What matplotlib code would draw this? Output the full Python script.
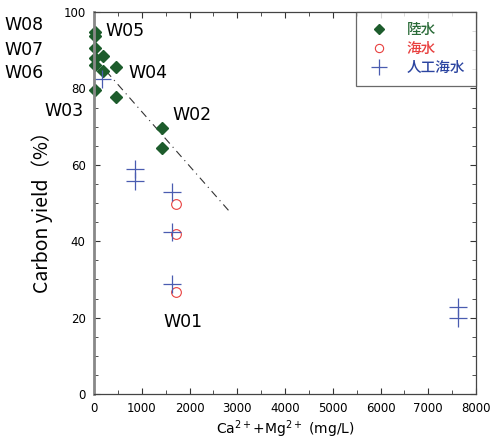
import matplotlib
matplotlib.use("Agg")
import matplotlib.pyplot as plt
from matplotlib.ticker import MultipleLocator

plt.rcParams['font.family'] = ['DejaVu Sans', 'Noto Sans CJK JP']

# 陸水 (land water)
land_x = [15, 15, 15, 15, 182, 15, 461, 182, 15, 461, 1418, 1418]
land_y = [94.8, 93.7, 90.5, 87.9, 88.5, 86.1, 85.7, 84.6, 79.6, 77.8, 69.6, 64.3]
# 海水 (sea water)
sea_x = [1717, 1717, 1717]
sea_y = [49.7, 41.9, 26.8]
# 人工海水 (artificial sea water)
art_x = [161, 858, 858, 1633, 1633, 1633, 7618, 7618]
art_y = [82.4, 58.8, 55.8, 53.0, 42.4, 28.9, 22.9, 19.8]
# trend line end points
trend_x = [250, 2850]
trend_y = [84.6, 47.6]

labels = ['W08', 'W07', 'W06', 'W05', 'W04', 'W03', 'W02', 'W01']
label_x = [-1870, -1870, -1870, 230, 712, -1030, 1633, 1445]
label_y = [96.6, 90.1, 84.0, 95.0, 84.0, 74.0, 73.0, 18.8]

fig = plt.figure(figsize=(4.95, 4.48), dpi=100)
ax = fig.add_axes([0.19, 0.1205, 0.7716, 0.8525])

ax.plot(trend_x, trend_y, color='#333333', lw=0.8, dashes=(7, 4, 1, 4))
ax.plot(land_x, land_y, 'D', color='#1d5c2c', ms=6, ls='none', label='陸水', clip_on=False)
ax.plot(sea_x, sea_y, 'o', mfc='none', mec='#e8403f', mew=0.8, ms=7, ls='none', label='海水')
ax.plot(art_x, art_y, '+', color='#4a5cb0', mew=0.9, ms=13, ls='none', label='人工海水',
        clip_on=False)

for t, x, y in zip(labels, label_x, label_y):
    ax.text(x, y, t, fontsize=12.5, ha='left', va='center', clip_on=False)

ax.set_xlim(0, 8000)
ax.set_ylim(0, 100)
ax.xaxis.set_major_locator(MultipleLocator(1000))
ax.xaxis.set_minor_locator(MultipleLocator(500))
ax.yaxis.set_major_locator(MultipleLocator(20))
ax.yaxis.set_minor_locator(MultipleLocator(5))
ax.tick_params(which='both', direction='in', top=True, right=True, labelsize=8.5,
               color='#333333', pad=6)
ax.tick_params(which='major', length=4)
ax.tick_params(which='minor', length=3)
for s in ax.spines.values():
    s.set_color('#444444')
    s.set_linewidth(0.9)
ax.spines['left'].set_color('#888888')
ax.spines['left'].set_linewidth(2)

ax.set_ylabel('Carbon yield（%）', fontsize=14, family=['Noto Sans CJK JP', 'DejaVu Sans'])
ax.yaxis.set_label_coords(-0.107, 0.49)
ax.set_xlabel('Ca$^{2+}$+Mg$^{2+}$ (mg/L)', fontsize=10, labelpad=2)

leg = ax.legend(loc='upper right',
                prop={'family': ['Noto Sans CJK JP'], 'size': 10.5, 'weight': 'medium'},
                frameon=True, fancybox=False, borderaxespad=0, handletextpad=1.1,
                borderpad=0.75, labelspacing=0.35, handlelength=1.6, markerscale=0.85)
leg.get_frame().set_edgecolor('#444444')
leg.get_frame().set_linewidth(0.9)
for txt, c in zip(leg.get_texts(), ['#2a6b38', '#e8403f', '#2b44a0']):
    txt.set_color(c)

fig.savefig('out.png', dpi=100)
